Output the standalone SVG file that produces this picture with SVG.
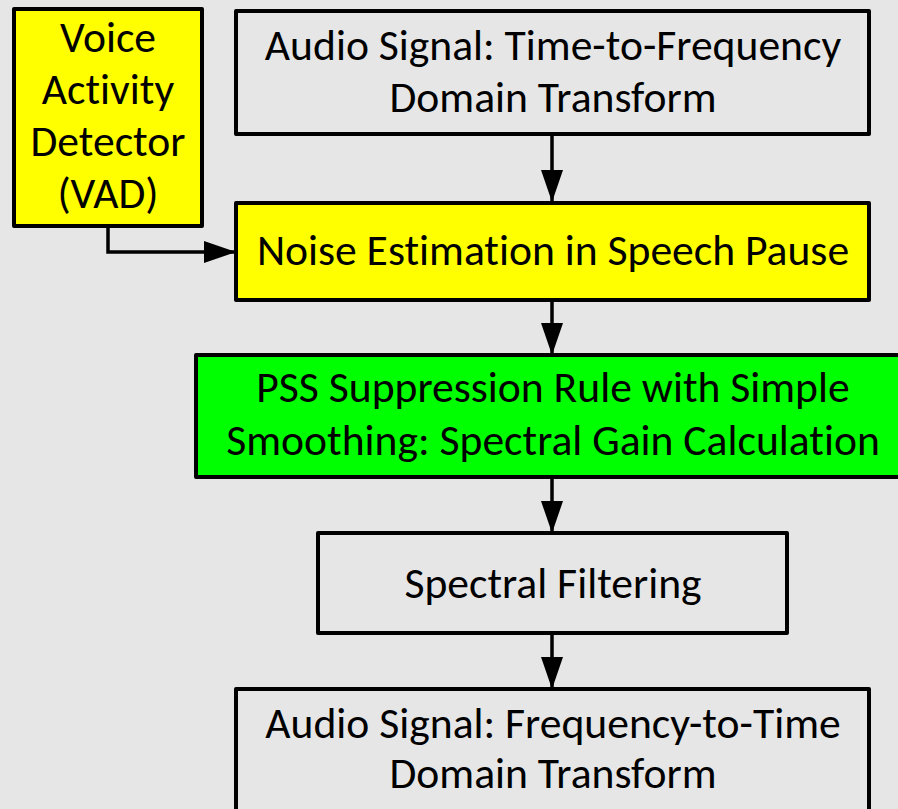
<svg xmlns="http://www.w3.org/2000/svg" width="898" height="809" viewBox="0 0 898 809">
<defs>
<style>
.box{stroke:#000;stroke-width:4;stroke-linejoin:round}
.gray{fill:#e6e6e6}
.yellow{fill:#ffff00}
.green{fill:#00ff00}
text{font-family:Carlito,Lato,"Liberation Sans",sans-serif;font-size:43.6px;fill:#000;text-anchor:middle;font-variant-ligatures:none;font-feature-settings:"liga" 0,"clig" 0}
.conn{stroke:#000;stroke-width:3.5;fill:none}
</style>
<marker id="arr" viewBox="0 0 32 22" refX="32" refY="11" markerWidth="32" markerHeight="22" markerUnits="userSpaceOnUse" orient="auto">
<path d="M0,0 L32,11 L0,22 Z" fill="#000"/>
</marker>
</defs>
<rect width="898" height="809" fill="#e6e6e6"/>
<g id="connectors">
<line class="conn" x1="552" y1="134" x2="552" y2="202" marker-end="url(#arr)"/>
<polyline class="conn" points="108,226 108,252 236,252" marker-end="url(#arr)"/>
<line class="conn" x1="552" y1="300" x2="552" y2="355" marker-end="url(#arr)"/>
<line class="conn" x1="552" y1="477" x2="552" y2="533" marker-end="url(#arr)"/>
<line class="conn" x1="552" y1="633" x2="552" y2="689" marker-end="url(#arr)"/>
</g>
<g id="vad">
<rect class="box yellow" x="14" y="9" width="188" height="217"/>
<text x="108" y="52">Voice</text>
<text x="108" y="104">Activity</text>
<text x="108" y="156">Detector</text>
<text x="108" y="208">(VAD)</text>
</g>
<g id="t2f">
<rect class="box gray" x="236" y="11" width="633" height="123"/>
<text x="553" y="60">Audio Signal: Time-to-Frequency</text>
<text x="553" y="112">Domain Transform</text>
</g>
<g id="noise">
<rect class="box yellow" x="236" y="203" width="633" height="97"/>
<text x="553" y="265">Noise Estimation in Speech Pause</text>
</g>
<g id="pss">
<rect class="box green" x="196" y="355" width="720" height="122"/>
<text x="553" y="402">PSS Suppression Rule with Simple</text>
<text x="553" y="455">Smoothing: Spectral Gain Calculation</text>
</g>
<g id="filter">
<rect class="box gray" x="318" y="533" width="469" height="100"/>
<text x="553" y="598">Spectral Filtering</text>
</g>
<g id="f2t">
<rect class="box gray" x="236" y="689" width="633" height="140"/>
<text x="553" y="738">Audio Signal: Frequency-to-Time</text>
<text x="553" y="788">Domain Transform</text>
</g>
</svg>
